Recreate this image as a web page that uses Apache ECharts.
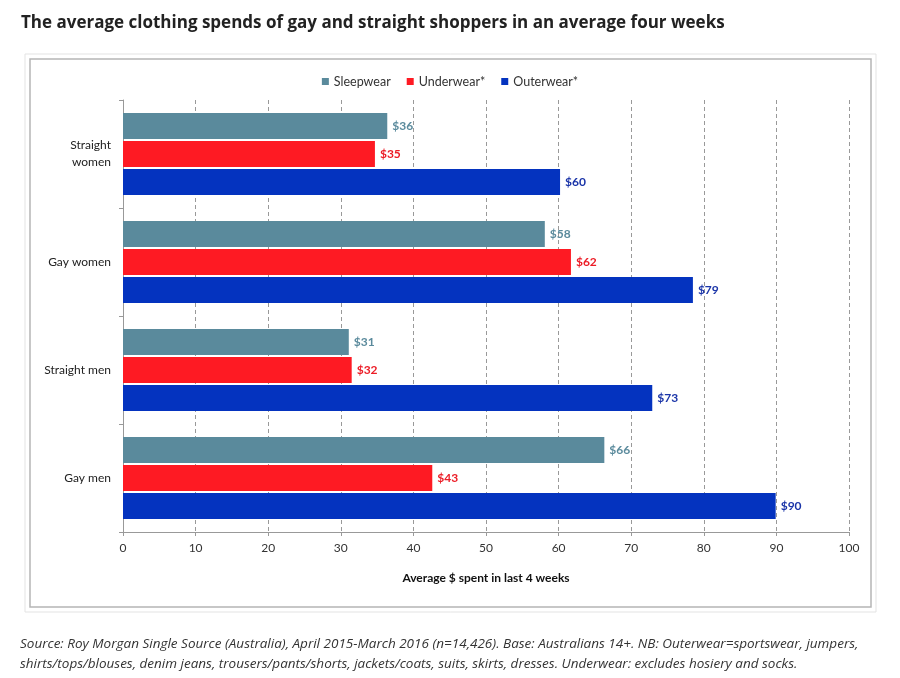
<!DOCTYPE html>
<html>
<head>
<meta charset="UTF-8">
<script src="https://cdn.jsdelivr.net/npm/echarts@6/dist/echarts.min.js"></script>
<title>Clothing spends</title>
<style>
  html, body { margin: 0; padding: 0; background: #fff; }
</style>
</head>
<body>
<div id="main" style="width: 900px; height: 678px;"></div>
<script type="text/javascript">
// shopper groups, top to bottom
var groups = ['Straight\nwomen', 'Gay women', 'Straight men', 'Gay men'];
// average $ spent in the last four weeks
var sleepwear = [36.4, 58.1, 31.1, 66.3];
var underwear = [34.7, 61.7, 31.5, 42.6];
var outerwear = [60.2, 78.5, 72.9, 89.9];
var xTicks = [0, 10, 20, 30, 40, 50, 60, 70, 80, 90, 100];

var font = 'Lato, "Open Sans", sans-serif';

function barSeries(name, data, color, labelColor) {
  return {
    name: name,
    type: 'bar',
    data: data,
    barWidth: 26,
    barGap: '8%',
    itemStyle: { color: color },
    label: {
      show: true,
      position: 'right',
      distance: 5,
      color: labelColor,
      fontWeight: 'bold',
      fontSize: 12,
      fontFamily: font,
      formatter: function (p) { return '$' + Math.round(p.value); }
    }
  };
}

var myChart = echarts.init(document.getElementById('main'));
var option = {
  animation: false,
  title: [{
    text: 'The average clothing spends of gay and straight shoppers in an average four weeks',
    left: 16,
    top: 10,
    textStyle: { fontFamily: '"Open Sans", sans-serif', fontWeight: 'bold', fontSize: 17, color: '#222' }
  }, {
    text: 'Source: Roy Morgan Single Source (Australia), April 2015-March 2016 (n=14,426). Base: Australians 14+. NB: Outerwear=sportswear, jumpers,\nshirts/tops/blouses, denim jeans, trousers/pants/shorts, jackets/coats, suits, skirts, dresses. Underwear: excludes hosiery and socks.',
    left: 15,
    top: 629,
    textStyle: { fontFamily: '"Open Sans", sans-serif', fontStyle: 'italic', fontWeight: 'normal', fontSize: 13.5, color: '#333', lineHeight: 20 }
  }],
  graphic: [{
    type: 'rect',
    shape: { x: 25, y: 54, width: 851, height: 558 },
    style: { fill: 'none', stroke: '#e3e3e3', lineWidth: 1 }
  }, {
    type: 'rect',
    shape: { x: 30, y: 59, width: 841, height: 548 },
    style: { fill: 'none', stroke: '#b5b5b5', lineWidth: 1.5 }
  }],
  legend: {
    top: 70,
    left: 'center',
    itemWidth: 7,
    itemHeight: 7,
    itemGap: 16,
    icon: 'rect',
    textStyle: { fontFamily: font, fontSize: 12.5, color: '#333' },
    data: ['Sleepwear', 'Underwear*', 'Outerwear*']
  },
  grid: { left: 123, right: 51, top: 100, bottom: 146, containLabel: false },
  xAxis: {
    type: 'value',
    min: 0,
    max: 100,
    interval: 10,
    name: 'Average $ spent in last 4 weeks',
    nameLocation: 'middle',
    nameGap: 40,
    nameTextStyle: { fontFamily: font, fontWeight: 'bold', fontSize: 12, color: '#111' },
    axisLine: { show: true, lineStyle: { color: '#999', width: 1 } },
    axisTick: { show: true, length: 4, lineStyle: { color: '#999' } },
    axisLabel: {
      margin: 10,
      fontFamily: font,
      fontSize: 12,
      color: '#333',
      formatter: function (v) { return xTicks.indexOf(v) >= 0 ? String(v) : ''; }
    },
    splitLine: { show: true, lineStyle: { color: '#999', type: [4, 3], width: 1 } }
  },
  yAxis: {
    type: 'category',
    data: groups,
    inverse: true,
    axisLine: { show: true, lineStyle: { color: '#999', width: 1 } },
    axisTick: { show: true, length: 4, lineStyle: { color: '#999' } },
    axisLabel: { margin: 12, fontFamily: font, fontSize: 12, color: '#222', lineHeight: 17 }
  },
  series: [
    barSeries('Sleepwear', sleepwear, '#5a8a9c', '#5a8a9c'),
    barSeries('Underwear*', underwear, '#fe1a23', '#ec1c26'),
    barSeries('Outerwear*', outerwear, '#0433bf', '#1a34a8')
  ]
};
myChart.setOption(option);
</script>
</body>
</html>
